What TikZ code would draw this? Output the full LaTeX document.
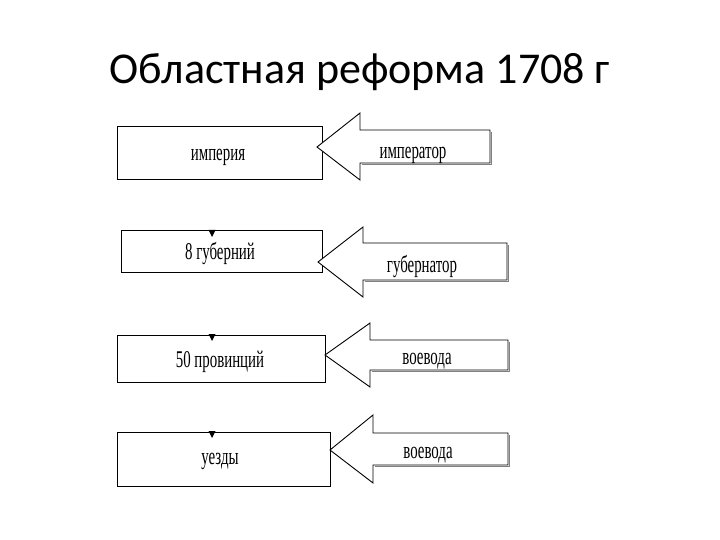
\documentclass[tikz,border=0pt]{standalone}
\usepackage{fontspec}
\setmainfont{Liberation Serif}
\newfontfamily\titlefont{Carlito}
\begin{document}
\begin{tikzpicture}[x=1pt,y=-1pt,
  box/.style={draw=black,line width=1pt,fill=white,inner sep=0pt},
  lbl/.style={font=\fontsize{24}{24}\selectfont,xscale=0.62,inner sep=0pt},
  bigarrow/.style={draw=black,line width=0.9pt,fill=white,line join=miter},
  shadowarrow/.style={draw=black!50,line width=1.6pt},
  tri/.style={fill=black}]
\useasboundingbox (0,0) rectangle (720,540);
\node[font=\titlefont\fontsize{44}{44}\selectfont,anchor=base] (title) at (360,84) {Областная реформа 1708 г};

% boxes
\node[box,minimum width=205pt,minimum height=53pt] (b1) at (219.5,153.5) {};
\node[box,minimum width=201pt,minimum height=41pt] (b2) at (221.5,251.5) {};
\node[box,minimum width=208pt,minimum height=47pt] (b3) at (221,358.5) {};
\node[box,minimum width=213pt,minimum height=54pt] (b4) at (223.5,459) {};
\node[lbl] (t1) at (218,157) {империя};
\node[lbl] (t2) at (220,253) {8 губерний};
\node[lbl] (t3) at (220,362) {50 провинций};
\node[lbl] (t4) at (220,461) {уезды};

% small arrowheads on box tops
\coordinate (p2) at (212,231);
\coordinate (p3) at (212,335);
\coordinate (p4) at (212,432);
\foreach \p in {p2,p3,p4}{
  \fill[tri] (\p) ++(-3.5,-1) -- ++(7,0) -- ++(-3.5,7) -- cycle;
}

% big arrows: tip x, tip y, head x, head top, head bottom, shaft top, shaft bottom, right
\foreach \tx/\ty/\hx/\ht/\hb/\st/\sb/\rx/\n in {
  317/147/360/113/180/130/163/490/1,
  318/262/363/227/297/243/280/507/2,
  325/355/370/323/387/340/370/508/3,
  330/450/373/415/483/433/465/508/4}{
  \draw[shadowarrow] (\rx+1.5,\st+2) -- (\rx+1.5,\sb+1.5) -- (\hx+1.5,\sb+1.5);
  \draw[bigarrow] (\tx,\ty) -- (\hx,\ht) -- (\hx,\st) -- (\rx,\st) -- (\rx,\sb) -- (\hx,\sb) -- (\hx,\hb) -- cycle;
}
\node[lbl] (a1) at (413,155) {император};
\node[lbl] (a2) at (422,266) {губернатор};
\node[lbl] (a3) at (427,361) {воевода};
\node[lbl] (a4) at (428,455) {воевода};
\end{tikzpicture}
\end{document}
